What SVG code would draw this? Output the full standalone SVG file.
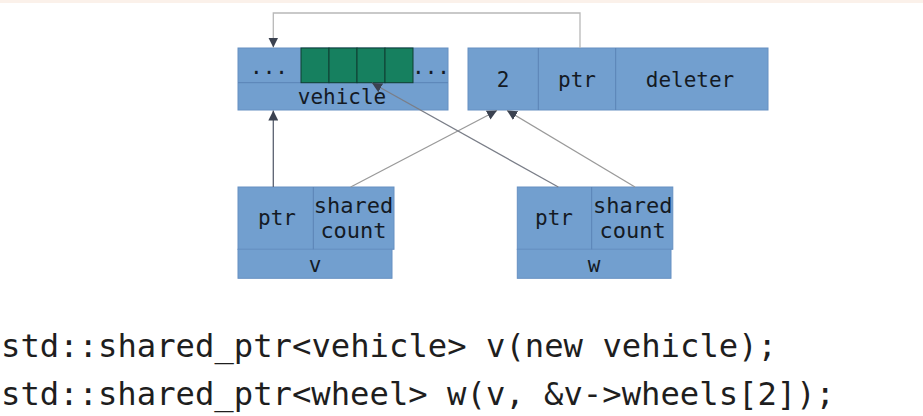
<svg xmlns="http://www.w3.org/2000/svg" width="923" height="416" viewBox="0 0 923 416">
<defs>
<style>
.box{fill:#729fcf;stroke:#6690c2;stroke-width:1}
.div{stroke:#5a83b5;stroke-width:1}
.cell{fill:#16805f;stroke:#0f3f32;stroke-width:1}
.lbl{font-family:"DejaVu Sans Mono",monospace;font-size:21px;fill:#141a24;text-anchor:middle}
.code{font-family:"DejaVu Sans Mono",monospace;font-size:32px;fill:#1e1e1e}
.ln{fill:none;stroke-width:1.3}
</style>
<marker id="ah" viewBox="0 0 10 10" refX="10" refY="5" markerWidth="10" markerHeight="10" markerUnits="userSpaceOnUse" orient="auto">
<path d="M0,0 L10,5 L0,10 z" fill="#3b4250"/>
</marker>
</defs>
<rect x="0" y="0" width="923" height="416" fill="#ffffff"/>
<rect x="0" y="0" width="923" height="3" fill="#fbf1ea"/>

<g id="vehicle">
<rect class="box" x="238" y="48" width="210" height="62"/>
<line class="div" x1="238" y1="82.7" x2="448" y2="82.7"/>
<rect class="cell" x="301" y="48" width="28" height="34.7"/>
<rect class="cell" x="329" y="48" width="28" height="34.7"/>
<rect class="cell" x="357" y="48" width="28" height="34.7"/>
<rect class="cell" x="385" y="48" width="28" height="34.7"/>
<text class="lbl" x="269" y="74">...</text>
<text class="lbl" x="431" y="74">...</text>
<text class="lbl" x="342" y="104">vehicle</text>
</g>

<g id="control">
<rect class="box" x="468" y="48" width="300" height="62"/>
<line class="div" x1="538.3" y1="48" x2="538.3" y2="110"/>
<line class="div" x1="615.7" y1="48" x2="615.7" y2="110"/>
<text class="lbl" x="503" y="87">2</text>
<text class="lbl" x="577" y="87">ptr</text>
<text class="lbl" x="690" y="87">deleter</text>
</g>

<g id="v">
<rect class="box" x="238" y="187" width="156" height="62.3"/>
<rect class="box" x="238" y="249.3" width="154" height="29"/>
<line class="div" x1="313.3" y1="187" x2="313.3" y2="249.3"/>
<text class="lbl" x="277" y="225">ptr</text>
<text class="lbl" x="353.5" y="213" style="font-size:22px">shared</text>
<text class="lbl" x="353.5" y="238" style="font-size:22px">count</text>
<text class="lbl" x="315" y="272">v</text>
</g>

<g id="w">
<rect class="box" x="517.3" y="187" width="155.5" height="62.3"/>
<rect class="box" x="517.3" y="249.3" width="153.7" height="29"/>
<line class="div" x1="591.7" y1="187" x2="591.7" y2="249.3"/>
<text class="lbl" x="554" y="225">ptr</text>
<text class="lbl" x="632.7" y="213" style="font-size:22px">shared</text>
<text class="lbl" x="632.7" y="238" style="font-size:22px">count</text>
<text class="lbl" x="594" y="272">w</text>
</g>

<g id="connectors">
<polyline class="ln" stroke="#b8b8b8" points="580,48 580,13 273.3,13 273.3,47.5" marker-end="url(#ah)"/>
<line class="ln" stroke="#5a6070" x1="273.3" y1="187" x2="273.3" y2="110.5" marker-end="url(#ah)"/>
<line class="ln" stroke="#9a9a9a" x1="350.7" y1="187" x2="497" y2="110.5" marker-end="url(#ah)"/>
<line class="ln" stroke="#7a7e88" x1="558.3" y1="187" x2="372" y2="83" marker-end="url(#ah)"/>
<line class="ln" stroke="#9a9a9a" x1="635" y1="187" x2="507" y2="110.5" marker-end="url(#ah)"/>
</g>

<g id="code">
<text class="code" x="1" y="357" textLength="776" lengthAdjust="spacingAndGlyphs">std::shared_ptr&lt;vehicle&gt; v(new vehicle);</text>
<text class="code" x="1" y="405" textLength="834" lengthAdjust="spacingAndGlyphs">std::shared_ptr&lt;wheel&gt; w(v, &amp;v-&gt;wheels[2]);</text>
</g>
</svg>
